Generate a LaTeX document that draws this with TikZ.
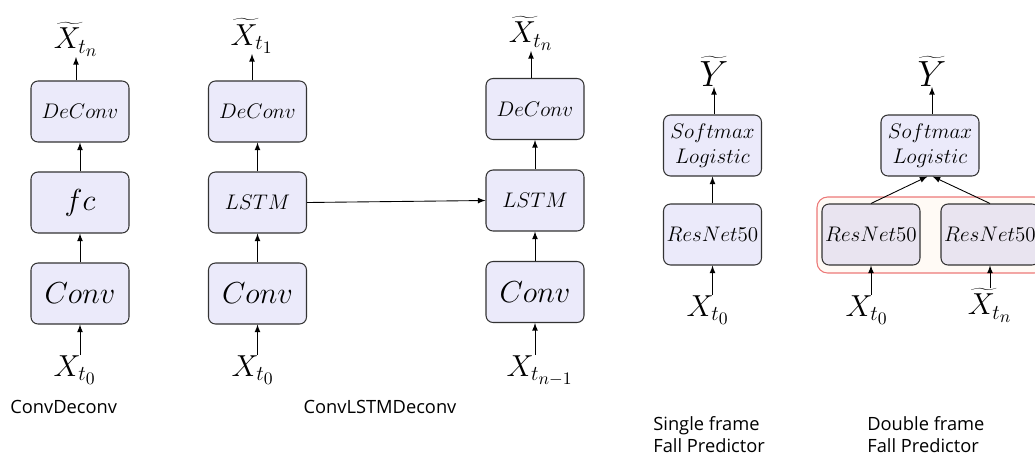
\documentclass[tikz,border=0pt]{standalone}
\usepackage{fontspec}
\newfontfamily\capfont{Open Sans}
\usetikzlibrary{positioning,arrows}

\definecolor{boxfill}{RGB}{235,234,250}
\definecolor{pairfill}{RGB}{233,228,240}
\definecolor{framered}{RGB}{236,120,120}
\definecolor{framefill}{RGB}{255,250,245}

\begin{document}
\begin{tikzpicture}[
    block/.style={draw=black!80, fill=boxfill, rounded corners=4pt, line width=0.6pt,
      minimum width=1.96cm, minimum height=1.22cm, inner sep=1pt, align=center},
    var/.style={inner sep=0pt, font=\LARGE},
    flow/.style={-latex, line width=0.5pt},
    caption/.style={inner sep=0pt, font=\capfont\fontsize{10.4}{12.5}\selectfont, align=left}]
    \useasboundingbox (0,0) rectangle (20.7,9.08);

    % ConvDeconv
    \node[block] (convA) at (1.6,3.21) {\LARGE $Conv$};
    \node[block] (fcA) at (1.6,5.03) {\LARGE $fc$};
    \node[block] (decA) at (1.6,6.85) {\large $DeConv$};
    \node[var, anchor=south] (outA) at (1.52,7.94) {$\widetilde{X}_{t_n}$};
    \node[var, anchor=north] (inA) at (1.5,1.98) {$X_{t_0}$};

    \draw[flow] (convA.south |- inA.north) -- (convA.south);
    \draw[flow] (convA) -- (fcA);
    \draw[flow] (fcA) -- (decA);
    \draw[flow] (decA.north -| outA) -- (outA.south);

    % ConvLSTMDeconv, first step
    \node[block] (convB) at (5.15,3.21) {\LARGE $Conv$};
    \node[block] (lstmB) at (5.15,5.03) {\large $LSTM$};
    \node[block] (decB) at (5.15,6.85) {\large $DeConv$};
    \node[var, anchor=south] (outB) at (5.04,8.0) {$\widetilde{X}_{t_1}$};
    \node[var, anchor=north] (inB) at (5.06,1.98) {$X_{t_0}$};

    \draw[flow] (convB.south |- inB.north) -- (convB.south);
    \draw[flow] (convB) -- (lstmB);
    \draw[flow] (lstmB) -- (decB);
    \draw[flow] (decB.north -| outB) -- (outB.south);

    % ConvLSTMDeconv, last step
    \node[block] (convC) at (10.7,3.24) {\LARGE $Conv$};
    \node[block] (lstmC) at (10.7,5.07) {\large $LSTM$};
    \node[block] (decC) at (10.7,6.90) {\large $DeConv$};
    \node[var, anchor=south] (outC) at (10.62,8.06) {$\widetilde{X}_{t_n}$};
    \node[var, anchor=north] (inC) at (10.8,1.98) {$X_{t_{n-1}}$};

    \draw[flow] (convC.south |- inC.north) -- (convC.south);
    \draw[flow] (convC) -- (lstmC);
    \draw[flow] (lstmC) -- (decC);
    \draw[flow] (decC.north -| outC) -- (outC.south);
    \draw[flow] (lstmB.east) -- (lstmC.west);

    % single frame predictor
    \node[block] (resD) at (14.25,4.39) {\large $ResNet50$};
    \node[block, font=\large] (softD) at (14.25,6.17) {$Softmax$\\$Logistic$};
    \node[var, anchor=south, font=\fontsize{22}{26}\selectfont] (outD) at (14.28,7.34) {$\widetilde{Y}$};
    \node[var, anchor=north] (inD) at (14.16,3.18) {$X_{t_0}$};

    \draw[flow] (resD.south |- inD.north) -- (resD.south);
    \draw[flow] (resD) -- (softD);
    \draw[flow] (softD.north -| outD) -- (outD.south);

    % double frame predictor
    \draw[framered, fill=framefill, rounded corners=6pt, line width=0.6pt] (16.34,3.62) rectangle (20.9,5.14);
    \node[block, fill=pairfill] (resE) at (17.42,4.39) {\large $ResNet50$};
    \node[block, fill=pairfill] (resF) at (19.8,4.39) {\large $ResNet50$};
    \node[block, font=\large] (softE) at (18.6,6.17) {$Softmax$\\$Logistic$};
    \node[var, anchor=south, font=\fontsize{22}{26}\selectfont] (outE) at (18.64,7.34) {$\widetilde{Y}$};
    \node[var, anchor=north] (inE) at (17.34,3.18) {$X_{t_0}$};
    \node[var, anchor=north] (inF) at (19.8,3.32) {$\widetilde{X}_{t_n}$};

    \draw[flow] (resE.south |- inE.north) -- (resE.south);
    \draw[flow] (resF.south |- inF.north) -- (resF.south);
    \draw[flow] (resE.north) -- ([xshift=-1.5pt]softE.south);
    \draw[flow] (resF.north) -- ([xshift=1.5pt]softE.south);
    \draw[flow] (softE.north -| outE) -- (outE.south);

    % captions
    \node[caption, anchor=west] (capA) at (0.2,0.94) {ConvDeconv};
    \node[caption] (capB) at (7.6,0.94) {ConvLSTMDeconv};
    \node[caption, anchor=north west] (capD) at (13.06,0.76) {Single frame\\Fall Predictor};
    \node[caption, anchor=north west] (capE) at (17.34,0.76) {Double frame\\Fall Predictor};
\end{tikzpicture}
\end{document}
